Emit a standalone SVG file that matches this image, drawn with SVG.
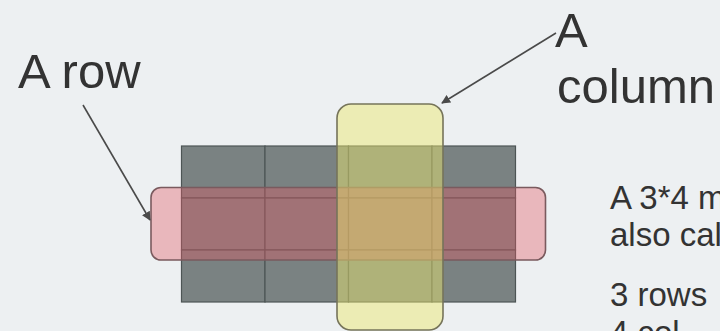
<svg xmlns="http://www.w3.org/2000/svg" width="720" height="331" viewBox="0 0 720 331">
<defs>
<marker id="ah" viewBox="0 0 10 10" refX="9" refY="5" markerWidth="9" markerHeight="9" markerUnits="userSpaceOnUse" orient="auto">
<path d="M0,0 L10,5 L0,10 z" fill="#4a4a4a"/>
</marker>
<style>
.lbl{font-family:"Liberation Sans",Arial,sans-serif;fill:#333;}
.big{font-size:49px;}
.small{font-size:33px;}
.cell{fill:#7a8282;stroke:#4d5555;stroke-width:1.2;}
.conn{stroke:#4a4a4a;stroke-width:1.6;fill:none;marker-end:url(#ah);}
</style>
</defs>
<rect x="0" y="0" width="720" height="331" fill="#edf0f2"/>
<g id="grid">
<rect class="cell" x="181.5" y="146" width="83.5" height="52"/>
<rect class="cell" x="265" y="146" width="83.5" height="52"/>
<rect class="cell" x="348.5" y="146" width="83.5" height="52"/>
<rect class="cell" x="432" y="146" width="83.5" height="52"/>
<rect class="cell" x="181.5" y="198" width="83.5" height="52"/>
<rect class="cell" x="265" y="198" width="83.5" height="52"/>
<rect class="cell" x="348.5" y="198" width="83.5" height="52"/>
<rect class="cell" x="432" y="198" width="83.5" height="52"/>
<rect class="cell" x="181.5" y="250" width="83.5" height="52"/>
<rect class="cell" x="265" y="250" width="83.5" height="52"/>
<rect class="cell" x="348.5" y="250" width="83.5" height="52"/>
<rect class="cell" x="432" y="250" width="83.5" height="52"/>
</g>
<g id="row-highlight">
<rect x="151" y="187.5" width="394.5" height="72.5" rx="10" fill="rgb(225,90,100)" fill-opacity="0.38" stroke="#7a5a5e" stroke-width="1.6"/>
</g>
<g id="column-highlight">
<rect x="337" y="104" width="106" height="226" rx="14" fill="rgb(236,232,110)" fill-opacity="0.47" stroke="#76745a" stroke-width="1.6"/>
</g>
<g id="label-row">
<text class="lbl big" x="18" y="88">A row</text>
</g>
<g id="label-column">
<text class="lbl big" x="555" y="47">A</text>
<text class="lbl big" x="557" y="103">column</text>
</g>
<g id="description">
<text class="lbl small" x="610" y="209">A 3*4 m</text>
<text class="lbl small" x="610" y="246">also cal</text>
<text class="lbl small" x="610" y="306">3 rows</text>
<text class="lbl small" x="610" y="344">4 col</text>
</g>
<g id="connectors">
<line class="conn" x1="83" y1="105" x2="150" y2="220"/>
<line class="conn" x1="556" y1="33" x2="442" y2="103"/>
</g>
</svg>
